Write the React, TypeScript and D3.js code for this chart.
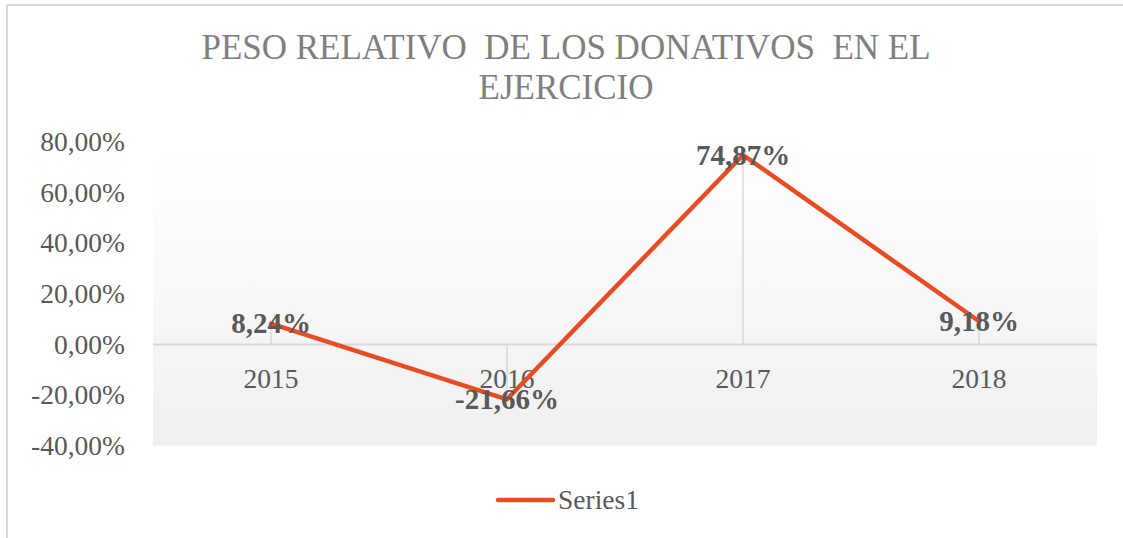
import React from "react";
import * as d3 from "d3";

const categories = ["2015", "2016", "2017", "2018"];
const values = [0.0824, -0.2166, 0.7487, 0.0918];
const yTicks = [-0.4, -0.2, 0, 0.2, 0.4, 0.6, 0.8];
const titleLines = ["PESO RELATIVO  DE LOS DONATIVOS  EN EL", "EJERCICIO"];
const seriesName = "Series1";

const W = 1123;
const H = 538;
const FONT = "'Liberation Serif', 'DejaVu Serif', serif";
const LINE_COLOR = "#E84C22";
const TEXT_COLOR = "#595959";
const GRID = "#D9D9D9";

const fmt = (v: number) => (v * 100).toFixed(2).replace(".", ",") + "%";

export default function App() {
  const plot = { left: 153, right: 1097, top: 142, bottom: 445.7 };
  const x = d3.scaleBand<string>().domain(categories).range([plot.left, plot.right]).padding(0);
  const y = d3.scaleLinear().domain([-0.4, 0.8]).range([plot.bottom, plot.top]);
  const cx = (c: string) => (x(c) as number) + x.bandwidth() / 2;
  const pts: [number, number][] = categories.map((c, i) => [cx(c), y(values[i])]);
  const line = d3.line<[number, number]>().x((d) => d[0]).y((d) => d[1]);

  return (
    <svg
      width={W}
      height={H}
      style={{ position: "absolute", left: 0, top: 0, background: "#fff", fontFamily: FONT }}
    >
      <defs>
        <linearGradient id="plotGrad" x1="0" y1="0" x2="0" y2="1">
          <stop offset="0%" stopColor="#ffffff" />
          <stop offset="100%" stopColor="#f0f0f0" />
        </linearGradient>
      </defs>
      <rect x={0} y={0} width={W} height={H} fill="#fff" />
      {/* frame */}
      <line x1={7} y1={5} x2={W} y2={5} stroke={GRID} strokeWidth={2} />
      <line x1={7} y1={5} x2={7} y2={H} stroke={GRID} strokeWidth={2} />

      {/* title */}
      {titleLines.map((t, i) => (
        <text
          key={i}
          x={566}
          y={59 + i * 39.5}
          textAnchor="middle"
          fontSize={35}
          fill="#7F7F7F"
          style={{ whiteSpace: "pre", fontFamily: FONT }}
        >
          {t}
        </text>
      ))}

      {/* plot area */}
      <rect
        x={plot.left}
        y={plot.top}
        width={plot.right - plot.left}
        height={plot.bottom - plot.top}
        fill="url(#plotGrad)"
      />

      {/* y tick labels */}
      {yTicks.map((t) => (
        <text
          key={t}
          x={125}
          y={y(t)}
          dy="0.33em"
          textAnchor="end"
          fontSize={27.5}
          fill={TEXT_COLOR}
          style={{ fontFamily: FONT }}
        >
          {fmt(t)}
        </text>
      ))}

      {/* zero axis line */}
      <line x1={plot.left} x2={plot.right} y1={y(0)} y2={y(0)} stroke={GRID} strokeWidth={2} />

      {/* drop lines */}
      {pts.map((p, i) => (
        <line key={i} x1={p[0]} x2={p[0]} y1={y(0)} y2={p[1]} stroke={GRID} strokeWidth={1.5} />
      ))}

      {/* category labels */}
      {categories.map((c) => (
        <text
          key={c}
          x={cx(c)}
          y={388}
          textAnchor="middle"
          fontSize={27.5}
          fill={TEXT_COLOR}
          style={{ fontFamily: FONT }}
        >
          {c}
        </text>
      ))}

      {/* series line */}
      <path
        d={line(pts) || ""}
        fill="none"
        stroke={LINE_COLOR}
        strokeWidth={4.5}
        strokeLinejoin="round"
        strokeLinecap="round"
      />

      {/* data labels */}
      {pts.map((p, i) => (
        <text
          key={i}
          x={p[0]}
          y={p[1]}
          dy="0.33em"
          textAnchor="middle"
          fontSize={29}
          fontWeight="bold"
          fill={TEXT_COLOR}
          style={{ fontFamily: FONT }}
        >
          {fmt(values[i])}
        </text>
      ))}

      {/* legend */}
      <line x1={498} x2={553} y1={500} y2={500} stroke={LINE_COLOR} strokeWidth={4.5} strokeLinecap="round" />
      <text x={558} y={509} fontSize={27.5} fill={TEXT_COLOR} style={{ fontFamily: FONT }}>
        {seriesName}
      </text>
    </svg>
  );
}
